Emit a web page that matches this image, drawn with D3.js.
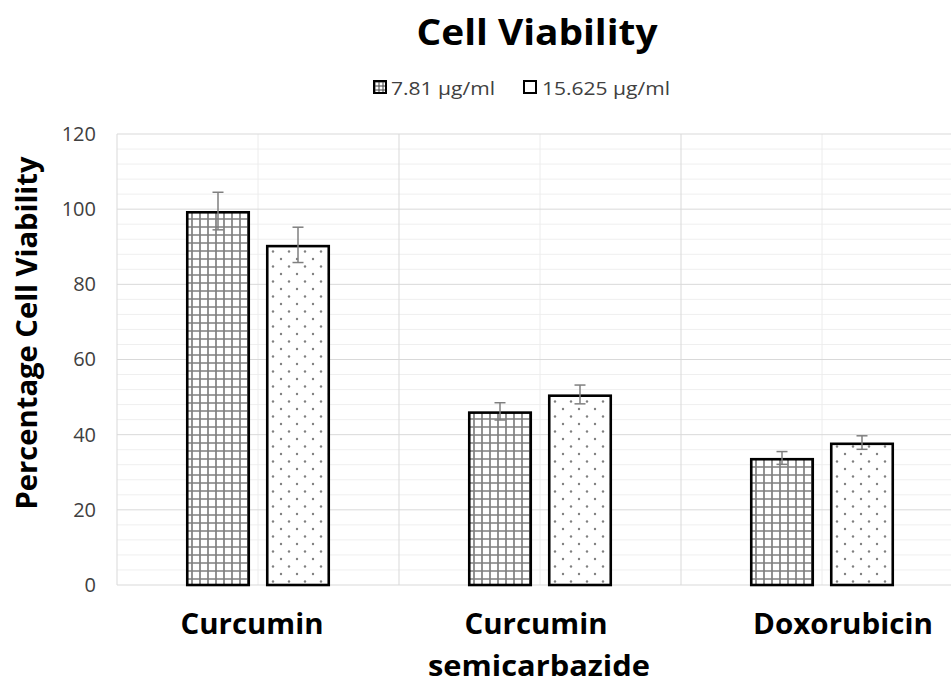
<!DOCTYPE html>
<html><head><meta charset="utf-8">
<script src="https://cdn.jsdelivr.net/npm/d3@7"></script>
<style>body{margin:0;background:#fff;overflow:hidden}text{font-family:"Open Sans",sans-serif}</style>
</head><body>
<script>
const categories = ["Curcumin", "Curcumin semicarbazide", "Doxorubicin"];
const series = ["7.81 µg/ml", "15.625 µg/ml"];
const values = [[99.5, 90.5], [46.2, 50.7], [33.8, 37.9]];
const errors = [[5.0, 4.7], [2.3, 2.5], [1.7, 1.8]];
const yTicks = [0, 20, 40, 60, 80, 100, 120];

(function(){
const W = 951, H = 678;
const svg = d3.select("body").append("svg").attr("width", W).attr("height", H);
const defs = svg.append("defs");

const gp = defs.append("pattern").attr("id","grid").attr("patternUnits","userSpaceOnUse")
  .attr("width",8).attr("height",8);
gp.append("rect").attr("width",8).attr("height",8).attr("fill","#fff");
gp.append("path").attr("d","M3,0V8M0,3H8").attr("stroke","#808080").attr("stroke-width",1.7);

const gs = defs.append("pattern").attr("id","gridsmall").attr("patternUnits","userSpaceOnUse")
  .attr("width",4).attr("height",4).attr("x",373).attr("y",80);
gs.append("rect").attr("width",4).attr("height",4).attr("fill","#fff");
gs.append("path").attr("d","M2,0V4M0,2H4").attr("stroke","#444").attr("stroke-width",1);

const dp = defs.append("pattern").attr("id","dots").attr("patternUnits","userSpaceOnUse")
  .attr("width",16).attr("height",15);
dp.append("rect").attr("width",16).attr("height",15).attr("fill","#fff");
dp.append("circle").attr("cx",4).attr("cy",4).attr("r",1.2).attr("fill","#808080");
dp.append("circle").attr("cx",12).attr("cy",11.5).attr("r",1.2).attr("fill","#808080");

const fills = ["url(#grid)", "url(#dots)"];
const legendFills = ["url(#gridsmall)", "#fff"];

const pLeft = 117, pRight = 963, pTop = 134, pBottom = 585;
const y = d3.scaleLinear().domain([0, 120]).range([pBottom, pTop]);
const x0 = d3.scaleBand().domain(categories).range([pLeft, pRight]).paddingInner(0).paddingOuter(0);
const bw = x0.bandwidth();
const x1 = d3.scaleBand().domain(series).range([bw*69/282, bw*213/282]).paddingInner(0.2).paddingOuter(0);

const minor = d3.range(0, 121, 4).filter(v => v % 20 !== 0);
svg.append("g").selectAll("line").data(minor).join("line")
  .attr("x1", pLeft).attr("x2", pRight).attr("y1", d=>y(d)).attr("y2", d=>y(d))
  .attr("stroke","#efefef").attr("stroke-width",1);
svg.append("g").selectAll("line").data(categories).join("line")
  .attr("x1", d=>x0(d)+bw/2).attr("x2", d=>x0(d)+bw/2).attr("y1", pTop).attr("y2", pBottom)
  .attr("stroke","#ececec").attr("stroke-width",1);
svg.append("g").selectAll("line").data(yTicks).join("line")
  .attr("x1", pLeft).attr("x2", pRight).attr("y1", d=>y(d)).attr("y2", d=>y(d))
  .attr("stroke","#d9d9d9").attr("stroke-width",1);
svg.append("g").selectAll("line").data(categories).join("line")
  .attr("x1", d=>x0(d)).attr("x2", d=>x0(d)).attr("y1", pTop).attr("y2", pBottom)
  .attr("stroke","#d9d9d9").attr("stroke-width",1);

const yAxis = d3.axisLeft(y).tickValues(yTicks).tickSize(0).tickPadding(0);
const ya = svg.append("g").attr("transform", `translate(${96},0)`).call(yAxis);
ya.select(".domain").remove();
ya.selectAll("text").attr("font-size", 20).attr("fill", "#404040")
  .attr("font-family", '"Open Sans",sans-serif');

const groups = svg.append("g").selectAll("g").data(categories).join("g")
  .attr("transform", d=>`translate(${x0(d)},0)`);
groups.each(function(cat, ci) {
  const g = d3.select(this);
  series.forEach((s, si) => {
    const v = values[ci][si], e = errors[ci][si];
    const bx = x1(s), w = x1.bandwidth();
    g.append("rect").attr("x", bx+1.25).attr("y", y(v)+1.25)
      .attr("width", w-2.5).attr("height", y(0)-y(v)-1.25)
      .attr("fill", fills[si]).attr("stroke", "#000").attr("stroke-width", 2.6);
    const cx = bx + w/2;
    g.append("line").attr("x1",cx).attr("x2",cx).attr("y1",y(v+e)).attr("y2",y(v-e))
      .attr("stroke","#7f7f7f").attr("stroke-width",1.5);
    [v+e, v-e].forEach(t => g.append("line").attr("x1",cx-5.5).attr("x2",cx+5.5)
      .attr("y1",y(t)).attr("y2",y(t)).attr("stroke","#7f7f7f").attr("stroke-width",1.5));
  });
});

const labelLines = [["Curcumin"], ["Curcumin", "semicarbazide"], ["Doxorubicin"]];
const labelWidths = [[143], [143, 222], [180]];
const labelShift = [[-6], [-4, -1], [21]];
categories.forEach((c, i) => {
  labelLines[i].forEach((ln, li) => {
    svg.append("text").attr("text-anchor","middle").attr("font-weight","bold")
      .attr("font-size", 28).attr("fill","#000")
      .attr("x", x0(c)+bw/2 + labelShift[i][li]).attr("y", 634 + li*41.5)
      .attr("textLength", labelWidths[i][li]).attr("lengthAdjust","spacingAndGlyphs")
      .text(ln);
  });
});

svg.append("text").attr("x", 537).attr("y", 45).attr("text-anchor","middle")
  .attr("font-weight","bold").attr("font-size", 35).attr("textLength", 241)
  .attr("lengthAdjust","spacingAndGlyphs").text("Cell Viability");

svg.append("text").attr("transform","translate(37,333) rotate(-90)").attr("text-anchor","middle")
  .attr("font-weight","bold").attr("font-size", 28).attr("textLength", 353)
  .attr("lengthAdjust","spacingAndGlyphs").text("Percentage Cell Viability");

const legX = [373, 523], legTX = [391, 542], legW = [104, 128];
series.forEach((s, i) => {
  svg.append("rect").attr("x", legX[i]+1).attr("y", 81).attr("width", 12).attr("height", 12)
    .attr("fill", legendFills[i]).attr("stroke","#000").attr("stroke-width", 2);
  svg.append("text").attr("x", legTX[i]).attr("y", 95).attr("font-size", 19)
    .attr("fill","#404040").attr("textLength", legW[i]).attr("lengthAdjust","spacingAndGlyphs").text(s);
});
})();
</script>
</body></html>
